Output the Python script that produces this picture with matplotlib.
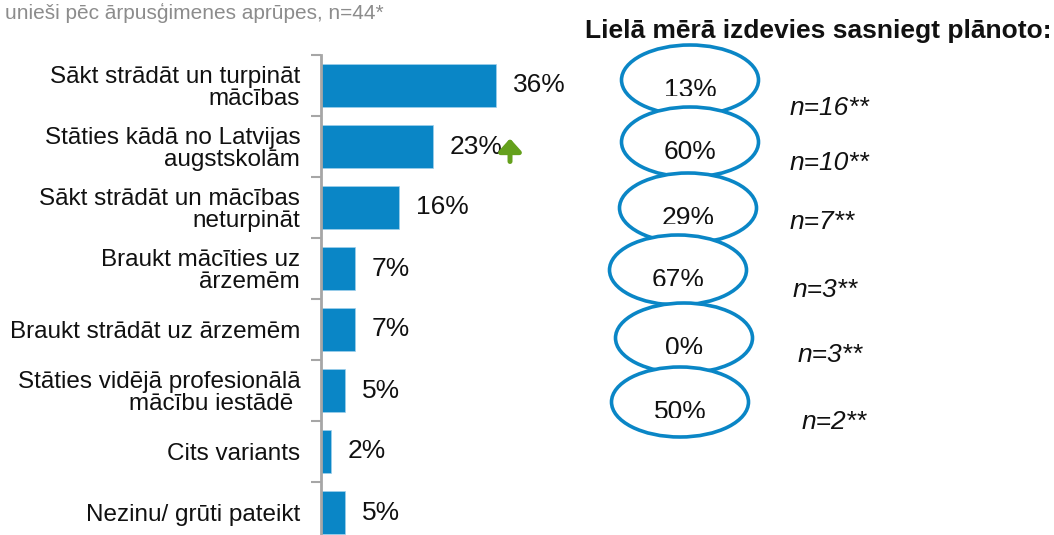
import matplotlib
matplotlib.use("Agg")
import matplotlib.pyplot as plt
from matplotlib.patches import Ellipse
from matplotlib.transforms import Bbox, offset_copy

plt.rcParams['font.family'] = ['Liberation Sans', 'DejaVu Sans']

# ---- data ----
categories = [
    "Sākt strādāt un turpināt\nmācības",
    "Stāties kādā no Latvijas\naugstskolām",
    "Sākt strādāt un mācības\nneturpināt",
    "Braukt mācīties uz\nārzemēm",
    "Braukt strādāt uz ārzemēm",
    "Stāties vidējā profesionālā\nmācību iestādē ",
    "Cits variants",
    "Nezinu/ grūti pateikt",
]
values = [36, 23, 16, 7, 7, 5, 2, 5]
value_labels = ["36%", "23%", "16%", "7%", "7%", "5%", "2%", "5%"]
up_marker = [False, True, False, False, False, False, False, False]

achieved_labels = ["13%", "60%", "29%", "67%", "0%", "50%"]
n_labels = ["n=16**", "n=10**", "n=7**", "n=3**", "n=3**", "n=2**"]

subtitle = "unieši pēc ārpusģimenes aprūpes, n=44*"
right_title = "Lielā mērā izdevies sasniegt plānoto:"

BLUE = "#0a86c6"
GRAY = "#a6a6a6"
GREEN = "#64a01c"
TXT = "#111111"

W, H = 1054, 535
fig = plt.figure(figsize=(W / 100, H / 100), dpi=100)

# ---- bar chart ----
ax_left_px, ax_top_px, row_px, px_per_pct = 321, 55, 61, 4.87
xmax = 40
n = len(categories)
ax = fig.add_axes([ax_left_px / W, 1 - (ax_top_px + n * row_px) / H,
                   xmax * px_per_pct / W, n * row_px / H])
ypos = list(range(n))
ax.barh(ypos, values, height=0.72, color=BLUE, edgecolor="#9fd0ec", linewidth=0.5)
ax.set_xlim(0, xmax)
ax.set_ylim(n - 0.5, -0.5)
for s in ["top", "right", "bottom"]:
    ax.spines[s].set_visible(False)
ax.spines["left"].set_color(GRAY)
ax.spines["left"].set_linewidth(2)
ax.set_xticks([])
ax.set_yticks(ypos)
ax.set_yticklabels(categories, fontsize=17.5, ha="right", multialignment="right",
                   color=TXT, linespacing=1.0)
ax.tick_params(axis="y", which="major", length=0, pad=15)
ax.set_yticks([i - 0.5 for i in range(n + 1)], minor=True)
ax.tick_params(axis="y", which="minor", length=7, width=1.5, color=GRAY)

for i, (v, lab, up) in enumerate(zip(values, value_labels, up_marker)):
    ax.annotate(lab, (v, i), xytext=(17, 0), textcoords="offset pixels",
                ha="left", va="center", fontsize=19, color=TXT)
    if up:
        tip = offset_copy(ax.transData, fig=fig, x=77, y=8, units="dots")
        tail = offset_copy(ax.transData, fig=fig, x=77, y=-15, units="dots")
        ax.annotate("", xy=(v, i), xycoords=tip, xytext=(v, i), textcoords=tail,
                    arrowprops=dict(arrowstyle="-|>,head_width=0.45,head_length=0.5",
                                    mutation_scale=15, color=GREEN, lw=3.6,
                                    shrinkA=0, shrinkB=0))

# ---- overlay in pixel coords ----
ov = fig.add_axes([0, 0, 1, 1], zorder=5)
ov.set_xlim(0, W)
ov.set_ylim(H, 0)
ov.axis("off")
ov.patch.set_alpha(0)

ov.text(5, 13, subtitle, fontsize=15, color="#8c8c8c", ha="left", va="center")
ov.text(585, 31, right_title, fontsize=19, fontweight="bold", ha="left", va="center", color=TXT)

ell_x = [690, 690, 688, 678, 684, 680]
ell_y = [80, 142, 208, 270, 338, 402]
for i, lab in enumerate(achieved_labels):
    e = Ellipse((ell_x[i], ell_y[i]), 137, 70, facecolor="white", edgecolor=BLUE,
                linewidth=2.6, zorder=2 + 2 * i)
    ov.add_patch(e)
    ty = ell_y[i] + 10
    t = ov.text(ell_x[i], ty, lab, fontsize=19, ha="center", va="center",
                zorder=3 + 2 * i, color=TXT)
    if i != 1:
        cy = ty + 6
        t.set_clip_box(Bbox.from_extents(0, H - cy, W, H))
        t.set_clip_on(True)

n_x = [790, 790, 790, 793, 798, 802]
n_y = [108, 163, 222, 290, 355, 422]
for i, nl in enumerate(n_labels):
    ov.text(n_x[i], n_y[i], nl, fontsize=19, style="italic", ha="left", va="center", color=TXT)

fig.savefig("out.png", dpi=100)
